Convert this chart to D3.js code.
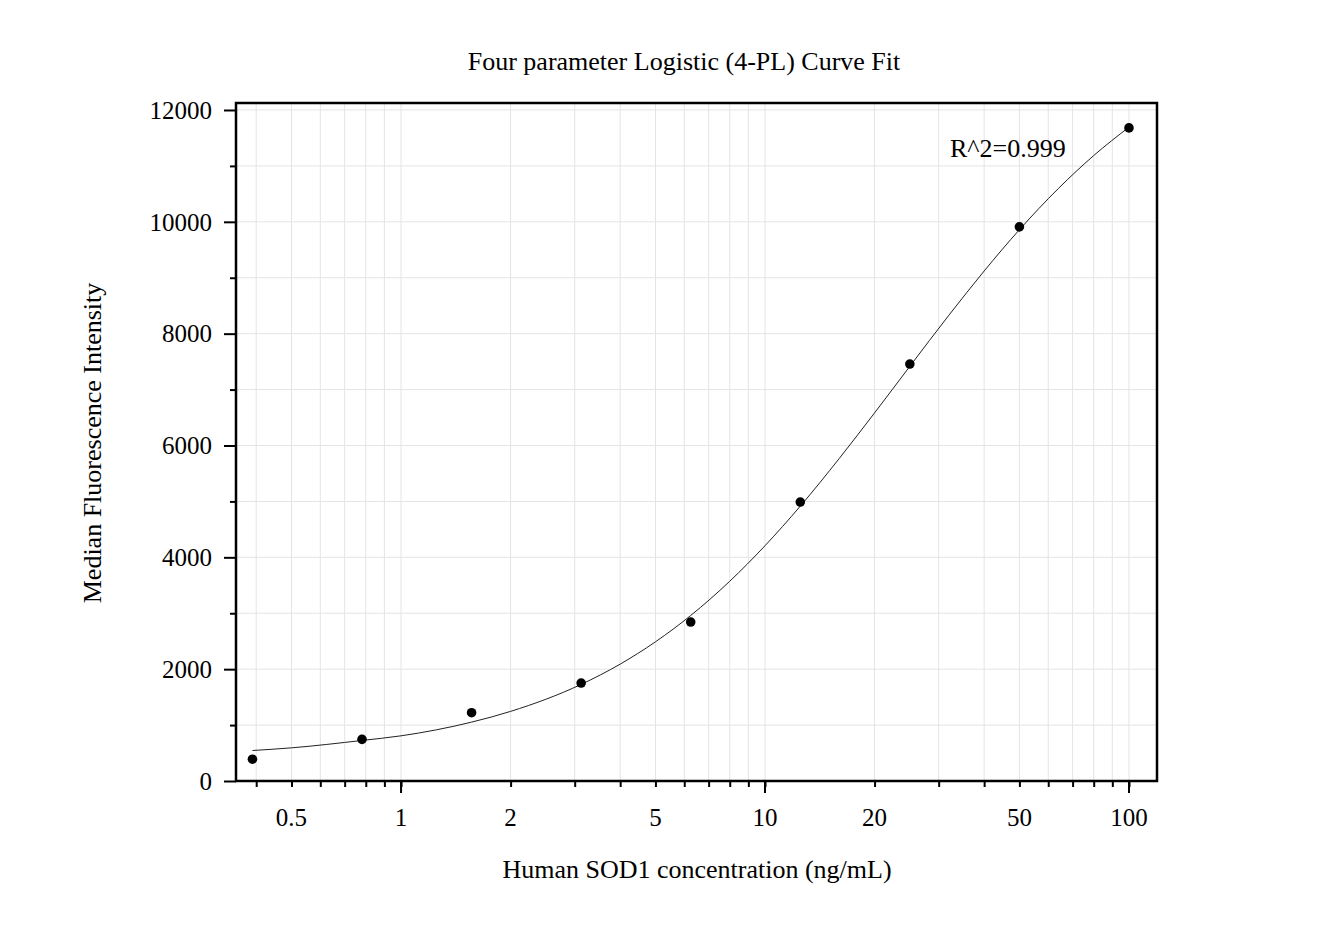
<!DOCTYPE html>
<html><head><meta charset="utf-8">
<script src="https://cdn.jsdelivr.net/npm/d3@7"></script>
<style>body{margin:0;background:#fff}svg text{font-family:"Liberation Serif","Times New Roman",serif;fill:#000}</style>
</head><body><svg id="c" width="1338" height="932"></svg>
<script>
// Data
const concentrations = [0.390625, 0.78125, 1.5625, 3.125, 6.25, 12.5, 25, 50, 100];
const mfiValues = [390, 745, 1221, 1752, 2843, 4989, 7457, 9910, 11680];
// fitted curve
const curveX = [0.390625, 0.5, 0.78125, 1, 1.5625, 2, 3.125, 4, 5, 6.25, 8, 10, 12.5, 16, 20, 25, 32, 40, 50, 64, 80, 100];
const curveY = [545, 593, 725, 808, 1053, 1245, 1728, 2090, 2489, 2960, 3572, 4208, 4915, 5769, 6583, 7416, 8329, 9120, 9859, 10597, 11185, 11693];
const xTickLabels = [0.5, 1, 2, 5, 10, 20, 50, 100];
const xLongTicks = [1, 10, 100];
const xMinorTicks = [0.4,0.5,0.6,0.7,0.8,0.9,1,2,3,4,5,6,7,8,9,10,20,30,40,50,60,70,80,90,100];
const yMajorTicks = [0, 2000, 4000, 6000, 8000, 10000, 12000];
const yMinorTicks = [1000, 3000, 5000, 7000, 9000, 11000];
const titleText = "Four parameter Logistic (4-PL) Curve Fit";
const xTitle = "Human SOD1 concentration (ng/mL)";
const yTitle = "Median Fluorescence Intensity";
const r2Text = "R^2=0.999";

const L = 236, R = 1157, T = 103, B = 781;
const svg = d3.select("#c");
const x = d3.scaleLog().domain([0.352, 119.4]).range([L, R]);
const y = d3.scaleLinear().domain([0, 12125]).range([B, T]);

// grid
const g = svg.append("g");
g.selectAll(".gx").data(xMinorTicks).enter().append("line")
  .attr("x1", d => x(d)).attr("x2", d => x(d)).attr("y1", T).attr("y2", B)
  .attr("stroke", "#e4e4e4").attr("stroke-width", 1);
g.selectAll(".gy").data(yMajorTicks.concat(yMinorTicks)).enter().append("line")
  .attr("x1", L).attr("x2", R).attr("y1", d => y(d)).attr("y2", d => y(d))
  .attr("stroke", "#e4e4e4").attr("stroke-width", 1);

// x axis ticks
const xa = svg.append("g").attr("transform", `translate(0,${B})`);
xa.call(d3.axisBottom(x).tickValues(xMinorTicks).tickSize(6).tickFormat(""))
  .call(a => a.select(".domain").remove())
  .call(a => a.selectAll("line").attr("stroke", "#000").attr("stroke-width", 2));
xa.selectAll(".long").data(xLongTicks).enter().append("line")
  .attr("x1", d => x(d)).attr("x2", d => x(d)).attr("y1", 0).attr("y2", 12)
  .attr("stroke", "#000").attr("stroke-width", 2);
svg.selectAll(".xl").data(xTickLabels).enter().append("text")
  .attr("x", d => x(d)).attr("y", 826).attr("text-anchor", "middle")
  .attr("font-size", 25).text(d => d);

// y axis
const ya = svg.append("g").attr("transform", `translate(${L},0)`);
ya.call(d3.axisLeft(y).tickValues(yMajorTicks).tickSize(12).tickFormat(""))
  .call(a => a.select(".domain").remove())
  .call(a => a.selectAll("line").attr("stroke", "#000").attr("stroke-width", 2));
const ya2 = svg.append("g").attr("transform", `translate(${L},0)`);
ya2.call(d3.axisLeft(y).tickValues(yMinorTicks).tickSize(6).tickFormat(""))
  .call(a => a.select(".domain").remove())
  .call(a => a.selectAll("line").attr("stroke", "#000").attr("stroke-width", 2));
svg.selectAll(".yl").data(yMajorTicks).enter().append("text")
  .attr("x", 212).attr("y", d => y(d)).attr("dy", "0.35em").attr("text-anchor", "end")
  .attr("font-size", 25).text(d => d);

// frame
svg.append("rect").attr("x", L).attr("y", T).attr("width", R - L).attr("height", B - T)
  .attr("fill", "none").attr("stroke", "#000").attr("stroke-width", 2.5);

// curve
const pts = curveX.map((d, i) => [d, curveY[i]]);
svg.append("path").datum(pts)
  .attr("d", d3.line().x(d => x(d[0])).y(d => y(d[1])).curve(d3.curveMonotoneX))
  .attr("fill", "none").attr("stroke", "#222").attr("stroke-width", 1);

// points
svg.selectAll(".pt").data(concentrations).enter().append("circle")
  .attr("cx", d => x(d)).attr("cy", (d, i) => y(mfiValues[i])).attr("r", 4.8).attr("fill", "#000");

// texts
svg.append("text").attr("x", 684).attr("y", 70).attr("text-anchor", "middle").attr("font-size", 26).text(titleText);
svg.append("text").attr("x", 697).attr("y", 878).attr("text-anchor", "middle").attr("font-size", 26).text(xTitle);
svg.append("text").attr("transform", "translate(101,443) rotate(-90)").attr("text-anchor", "middle").attr("font-size", 26).text(yTitle);
svg.append("text").attr("x", 950).attr("y", 157).attr("font-size", 26).text(r2Text);
</script></body></html>
